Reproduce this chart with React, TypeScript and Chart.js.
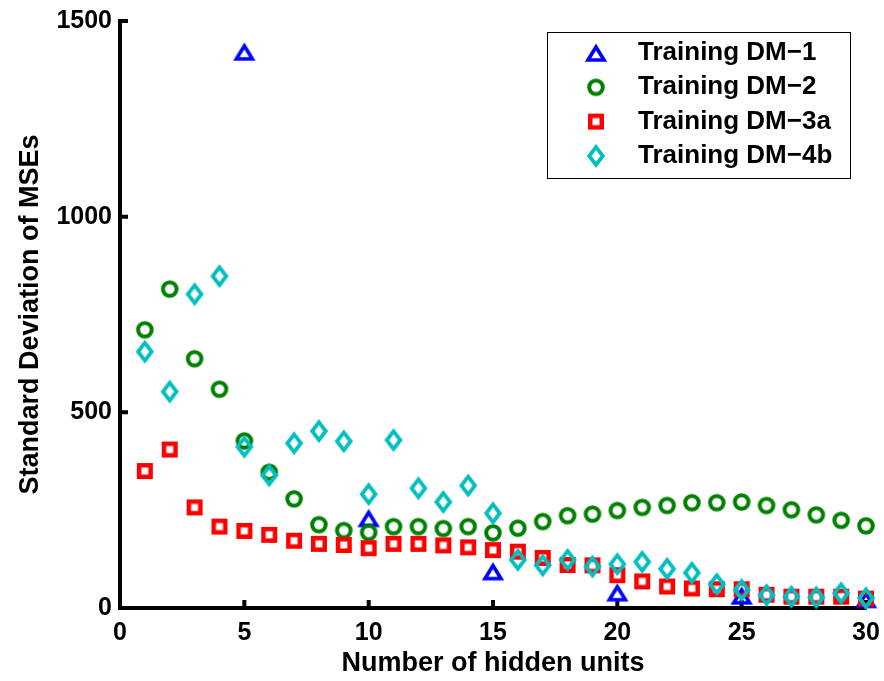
import React, { useEffect, useRef } from "react";
import { Chart, registerables } from "chart.js";

Chart.register(...registerables);

// ---- data ----
const hiddenUnits = [1, 2, 3, 4, 5, 6, 7, 8, 9, 10, 11, 12, 13, 14, 15, 16, 17, 18, 19, 20, 21, 22, 23, 24, 25, 26, 27, 28, 29, 30];
const dm1Units = [5, 10, 15, 20, 25, 30];
const dm1Values = [1421, 229, 93, 39, 31, 22];
const dm2Values = [711, 815, 637, 559, 427, 347, 279, 213, 198, 193, 208, 208, 203, 208, 192, 204, 221, 236, 240, 249, 257, 262, 269, 269, 271, 262, 251, 238, 224, 210];
const dm3aValues = [350, 405, 257, 208, 197, 187, 172, 164, 161, 153, 164, 164, 160, 155, 148, 144, 128, 110, 109, 84, 68, 55, 50, 48, 48, 34, 29, 29, 29, 24];
const dm4bValues = [655, 553, 802, 848, 412, 339, 421, 452, 426, 291, 429, 306, 271, 313, 242, 123, 109, 123, 106, 112, 118, 100, 90, 61, 46, 33, 29, 27, 38, 25];
const seriesLabels = ["Training DM\u22121", "Training DM\u22122", "Training DM\u22123a", "Training DM\u22124b"];
const xAxisTitle = "Number of hidden units";
const yAxisTitle = "Standard Deviation of MSEs";
const xRange = [0, 30];
const yRange = [0, 1500];
const xStep = 5;
const yStep = 500;

const FONT = '"Liberation Sans", Arial, Helvetica, sans-serif';

function makeMarker(shape: string, color: string): HTMLCanvasElement {
  const s = 32;
  const c = document.createElement("canvas");
  c.width = s;
  c.height = s;
  const ctx = c.getContext("2d")!;
  const m = s / 2;
  ctx.strokeStyle = color;
  ctx.lineJoin = "miter";
  ctx.beginPath();
  if (shape === "triangle") {
    ctx.lineWidth = 3.6;
    ctx.moveTo(m, m - 6);
    ctx.lineTo(m + 8, m + 7);
    ctx.lineTo(m - 8, m + 7);
    ctx.closePath();
  } else if (shape === "circle") {
    ctx.lineWidth = 4;
    ctx.arc(m, m, 6.8, 0, Math.PI * 2);
  } else if (shape === "square") {
    ctx.lineWidth = 4.5;
    ctx.rect(m - 5.75, m - 5.75, 11.5, 11.5);
  } else {
    ctx.lineWidth = 3.8;
    ctx.moveTo(m, m - 8.8);
    ctx.lineTo(m + 6.8, m);
    ctx.lineTo(m, m + 8.8);
    ctx.lineTo(m - 6.8, m);
    ctx.closePath();
  }
  ctx.stroke();
  return c;
}

const inwardTicks = {
  id: "inwardTicks",
  beforeDatasetsDraw(chart: any) {
    const { ctx, chartArea } = chart;
    const xs = chart.scales.x;
    const ys = chart.scales.y;
    ctx.save();
    ctx.strokeStyle = "#000";
    ctx.lineWidth = 4;
    ctx.beginPath();
    xs.ticks.forEach((t: any) => {
      const px = xs.getPixelForValue(t.value);
      ctx.moveTo(px, chartArea.bottom);
      ctx.lineTo(px, chartArea.bottom - 8);
    });
    ys.ticks.forEach((t: any) => {
      const py = ys.getPixelForValue(t.value);
      ctx.moveTo(chartArea.left, py);
      ctx.lineTo(chartArea.left + 8, py);
    });
    ctx.stroke();
    ctx.restore();
  },
};

const boxLegend = {
  id: "boxLegend",
  afterDatasetsDraw(chart: any) {
    const { ctx, chartArea } = chart;
    const w = 303;
    const h = 146;
    const left = chartArea.right - 319;
    const top = chartArea.top + 11;
    ctx.save();
    ctx.fillStyle = "#fff";
    ctx.fillRect(left, top, w, h);
    ctx.strokeStyle = "#000";
    ctx.lineWidth = 1;
    ctx.strokeRect(left + 0.5, top + 0.5, w, h);
    ctx.font = `bold 26px ${FONT}`;
    ctx.textBaseline = "middle";
    ctx.textAlign = "left";
    ctx.fillStyle = "#000";
    chart.data.datasets.forEach((ds: any, i: number) => {
      const y = top + 21 + i * 34.3;
      const img = ds.pointStyle as HTMLCanvasElement;
      ctx.drawImage(img, left + 49 - img.width / 2, y - img.height / 2);
      ctx.fillText(ds.label, left + 91, y);
    });
    ctx.restore();
  },
};

export default function App() {
  const ref = useRef<HTMLCanvasElement | null>(null);

  useEffect(() => {
    if (!ref.current) return;
    const markers = {
      dm1: makeMarker("triangle", "#0000FF"),
      dm2: makeMarker("circle", "#008000"),
      dm3: makeMarker("square", "#FF0000"),
      dm4: makeMarker("diamond", "#00BFBF"),
    };
    const chart = new Chart(ref.current, {
      type: "scatter",
      data: {
        datasets: [
          {
            label: seriesLabels[0],
            data: dm1Units.map((x, i) => ({ x, y: dm1Values[i] })),
            pointStyle: markers.dm1 as any,
            pointRadius: 8,
            order: 4,
            clip: false as any,
          },
          {
            label: seriesLabels[1],
            data: hiddenUnits.map((x, i) => ({ x, y: dm2Values[i] })),
            pointStyle: markers.dm2 as any,
            pointRadius: 8,
            order: 3,
            clip: false as any,
          },
          {
            label: seriesLabels[2],
            data: hiddenUnits.map((x, i) => ({ x, y: dm3aValues[i] })),
            pointStyle: markers.dm3 as any,
            pointRadius: 8,
            order: 2,
            clip: false as any,
          },
          {
            label: seriesLabels[3],
            data: hiddenUnits.map((x, i) => ({ x, y: dm4bValues[i] })),
            pointStyle: markers.dm4 as any,
            pointRadius: 8,
            order: 1,
            clip: false as any,
          },
        ],
      },
      options: {
        animation: false,
        responsive: false,
        devicePixelRatio: 1,
        layout: { padding: { top: 21, right: 18, left: 0, bottom: 0 } },
        plugins: { legend: { display: false }, tooltip: { enabled: false } },
        scales: {
          x: {
            type: "linear",
            min: xRange[0],
            max: xRange[1],
            afterFit: (s: any) => {
              s.height = 73;
              s.paddingLeft = 0;
              s.paddingRight = 0;
            },
            ticks: {
              stepSize: xStep,
              color: "#000",
              padding: 10,
              font: { family: FONT, size: 25, weight: "bold" },
              callback: (v: any) => String(v),
            },
            grid: { display: true, drawOnChartArea: false, drawTicks: false },
            border: { display: true, color: "#000", width: 4 },
            title: {
              display: true,
              text: xAxisTitle,
              color: "#000",
              font: { family: FONT, size: 27, weight: "bold" },
              padding: { top: 0, bottom: 1 },
            },
          },
          y: {
            type: "linear",
            min: yRange[0],
            max: yRange[1],
            afterFit: (s: any) => {
              s.width = 120;
              s.paddingTop = 0;
              s.paddingBottom = 0;
            },
            ticks: {
              stepSize: yStep,
              color: "#000",
              padding: 8,
              font: { family: FONT, size: 25, weight: "bold" },
              callback: (v: any) => String(v),
            },
            grid: { display: true, drawOnChartArea: false, drawTicks: false },
            border: { display: true, color: "#000", width: 4 },
            title: {
              display: true,
              text: yAxisTitle,
              color: "#000",
              font: { family: FONT, size: 27, weight: "bold" },
              padding: { top: 14, bottom: 0 },
            },
          },
        },
      } as any,
      plugins: [inwardTicks, boxLegend],
    });
    return () => chart.destroy();
  }, []);

  return (
    <div style={{ position: "fixed", left: 0, top: 0, width: 884, height: 681, background: "#fff" }}>
      <canvas ref={ref} width={884} height={681} style={{ width: 884, height: 681, display: "block" }} />
    </div>
  );
}
